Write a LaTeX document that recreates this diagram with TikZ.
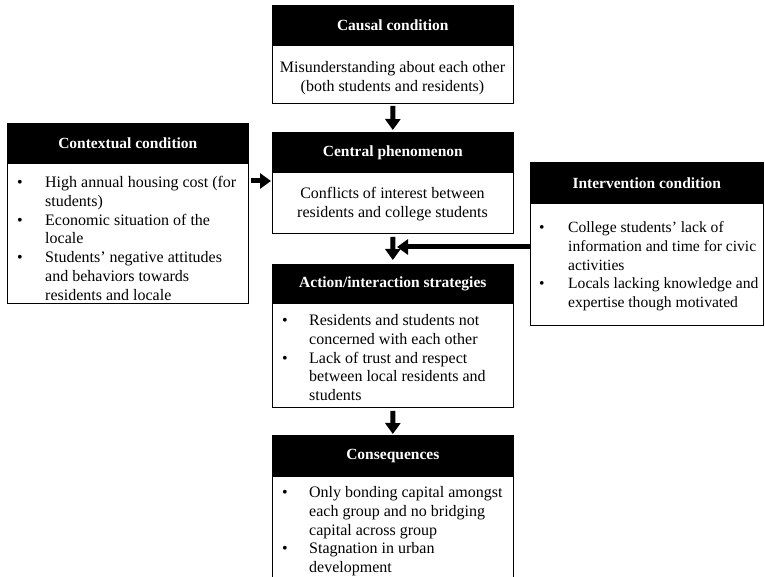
\documentclass[tikz,border=0pt]{standalone}
\usepackage{fontspec}
\setmainfont{Liberation Serif}
\usetikzlibrary{arrows.meta}
\newcommand\bodyfnt{\fontsize{16}{18.7}\selectfont}
\newcommand\intfnt{\fontsize{15.6}{18.7}\selectfont}
\newcommand\hdrfnt{\fontsize{15.5}{18}\selectfont\bfseries}
\begin{document}
\begin{tikzpicture}[x=1pt,y=-1pt,
  hdr/.style={draw=black, fill=black, text=white, font=\hdrfnt, inner sep=0pt, anchor=north west, line width=0.6pt},
  bodybox/.style={draw=black, fill=white, line width=0.8pt, inner sep=0pt, anchor=north west, align=center, font=\bodyfnt},
  ctext/.style={inner sep=0pt, align=center, font=\bodyfnt},
  bullets/.style={inner sep=0pt, anchor=north west, font=\bodyfnt},
  blk/.style={line width=5pt, -{Triangle[length=11pt,width=15pt]}}
]
\useasboundingbox (0,0) rectangle (765,577);

% Causal condition
\node[hdr, minimum width=241pt, minimum height=40pt] (cauh) at (272,5) {Causal condition};
\node[bodybox, minimum width=241pt, minimum height=58pt] (caub) at (272,45) {};
\node[ctext] (caut) at (392.5,78) {Misunderstanding about each other\\(both students and residents)};

% Central phenomenon
\node[hdr, minimum width=241pt, minimum height=40pt] (cenh) at (272,132) {Central phenomenon};
\node[bodybox, minimum width=241pt, minimum height=61pt] (cenb) at (272,172) {};
\node[ctext] (cent) at (392.5,204) {Conflicts of interest between\\residents and college students};

% Contextual condition
\node[hdr, minimum width=241pt, minimum height=40pt] (ctxh) at (7,123) {Contextual condition};
\node[bodybox, minimum width=241pt, minimum height=140pt] (ctxb) at (7,163) {};
\node[bullets] (ctxt) at (17,174.6) {\begin{tabular}{@{}p{28pt}@{}l@{}}
\textbullet & High annual housing cost (for\\
 & students)\\
\textbullet & Economic situation of the\\
 & locale\\
\textbullet & Students’ negative attitudes\\
 & and behaviors towards\\
 & residents and locale
\end{tabular}};

% Intervention condition
\node[hdr, minimum width=233pt, minimum height=41pt] (inth) at (530,162) {Intervention condition};
\node[bodybox, minimum width=233pt, minimum height=122pt] (intb) at (530,203) {};
\node[bullets, font=\intfnt] (intt) at (539,219.6) {\begin{tabular}{@{}p{29pt}@{}l@{}}
\textbullet & College students’ lack of\\
 & information and time for civic\\
 & activities\\
\textbullet & Locals lacking knowledge and\\
 & expertise though motivated
\end{tabular}};

% Action/interaction strategies
\node[hdr, minimum width=241pt, minimum height=39pt] (acth) at (272,264) {Action/interaction strategies};
\node[bodybox, minimum width=241pt, minimum height=104pt] (actb) at (272,303) {};
\node[bullets] (actt) at (282,312.6) {\begin{tabular}{@{}p{27pt}@{}l@{}}
\textbullet & Residents and students not\\
 & concerned with each other\\
\textbullet & Lack of trust and respect\\
 & between local residents and\\
 & students
\end{tabular}};

% Consequences
\node[hdr, minimum width=241pt, minimum height=41pt] (consh) at (272,435) {Consequences};
\node[bodybox, minimum width=241pt, minimum height=103pt] (consb) at (272,476) {};
\node[bullets] (const) at (282,484.6) {\begin{tabular}{@{}p{27pt}@{}l@{}}
\textbullet & Only bonding capital amongst\\
 & each group and no bridging\\
 & capital across group\\
\textbullet & Stagnation in urban\\
 & development
\end{tabular}};

% Arrows
\draw[blk, shorten <=2pt, shorten >=2pt] (caub.south) -- (cenh.north);
\draw[blk, shorten <=2pt, shorten >=1pt] ([yshift=-18pt]ctxb.north east) -- ([yshift=-9pt]cenb.north west);
\draw[blk, shorten <=3pt, shorten >=4pt] (cenb.south) -- (acth.north);
\coordinate (meet) at (397,247);
\draw[blk] ([yshift=-44pt]intb.north west) -- (meet);
\draw[blk, shorten <=3pt, shorten >=1pt] (actb.south) -- (consh.north);
\end{tikzpicture}
\end{document}
